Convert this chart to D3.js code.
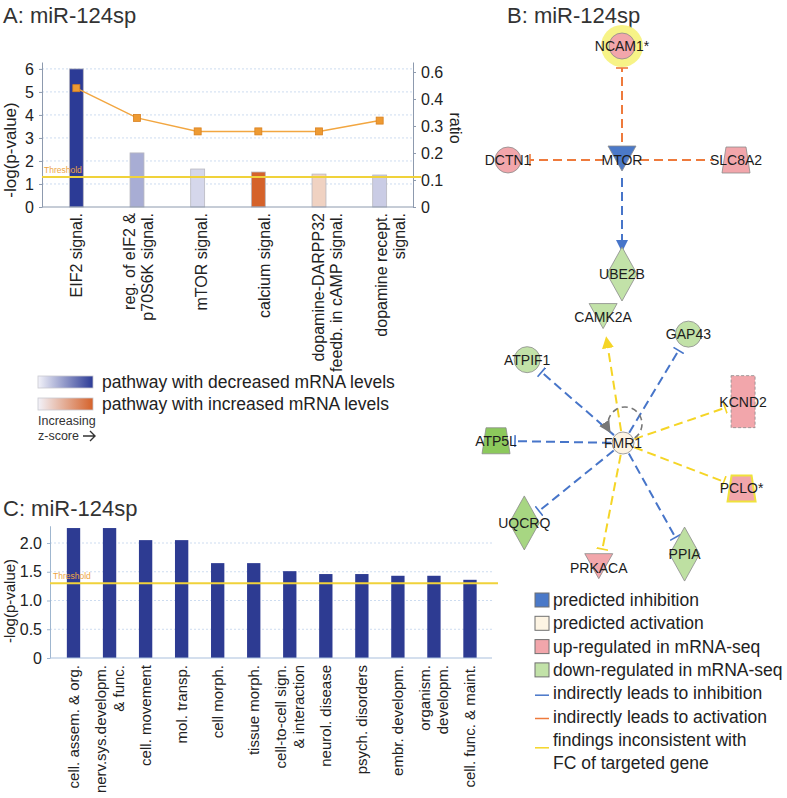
<!DOCTYPE html>
<html>
<head>
<meta charset="utf-8">
<title>miR-124sp</title>
<script src="https://cdn.jsdelivr.net/npm/d3@7"></script>
<style>
  body { margin: 0; background: #fff; }
  svg { font-family: "Liberation Sans", Arial, sans-serif; }
</style>
</head>
<body>
<script>
// ---- panel A: canonical pathways ----
var pathways = ["EIF2 signal.", "reg. of eIF2 &\np70S6K signal.", "mTOR signal.", "calcium signal.",
                "dopamine-DARPP32\nfeedb. in cAMP signal.", "dopamine recept.\nsignal."];
var pathwayLogP = [6.0, 2.35, 1.65, 1.52, 1.43, 1.39];
var pathwayRatio = [0.44, 0.33, 0.28, 0.28, 0.28, 0.32];
var pathwayZ = [-2.6, -0.95, -0.35, 2.3, 0.5, -0.5];   // colour of the bars
var logPTicks = [0, 1, 2, 3, 4, 5, 6];
var ratioTicks = [0, 0.1, 0.2, 0.3, 0.4, 0.5];
var ratioTickLabels = ["0", "0.1", "0.2", "0.3", "0.4", "0.6"];
var threshold = 1.3;

// ---- panel C: functions ----
var functions = ["cell. assem. & org.", "nerv.sys.developm.\n& func.", "cell. movement", "mol. transp.",
                 "cell morph.", "tissue morph.", "cell-to-cell sign.\n& interaction", "neurol. disease",
                 "psych. disorders", "embr. developm.", "organism.\ndevelopm.", "cell. func. & maint."];
var functionLogP = [2.26, 2.26, 2.05, 2.05, 1.65, 1.65, 1.51, 1.46, 1.46, 1.43, 1.43, 1.36];
var functionTicks = [0, 0.5, 1.0, 1.5, 2.0];

// ---- panel B: network ----
var genes     = ["MTOR", "NCAM1*", "SLC8A2", "UBE2B", "DCTN1",
                 "FMR1", "CAMK2A", "GAP43", "KCND2", "PCLO*", "PPIA", "PRKACA", "UQCRQ", "ATP5L", "ATPIF1"];
var geneType  = ["kinase", "other", "transporter", "enzyme", "other",
                 "other", "kinase", "other", "channel", "transporter", "enzyme", "kinase", "enzyme", "transporter", "other"];
var geneState = ["inhibited", "up", "up", "down", "up",
                 "activated", "down", "down", "up", "up", "down", "up", "down", "down", "down"];
var geneFC    = [0, 0.6, 0.6, -0.4, 0.6, 0, -0.4, -0.4, 0.6, 0.6, -0.45, 0.6, -0.7, -1.0, -0.4];
var geneFlag  = ["", "glow", "", "", "", "", "", "", "", "outline", "", "", "", "", ""];
// spokes of the two hubs, in clockwise order
var mtorSpokes = ["NCAM1*", "SLC8A2", "UBE2B", "DCTN1"];
var fmrSpokes  = ["CAMK2A", "GAP43", "KCND2", "PCLO*", "PPIA", "PRKACA", "UQCRQ", "ATP5L", "ATPIF1"];
var edgeSource = ["MTOR", "MTOR", "MTOR", "MTOR",
                  "FMR1", "FMR1", "FMR1", "FMR1", "FMR1", "FMR1", "FMR1", "FMR1", "FMR1"];
var edgeTarget = ["NCAM1*", "SLC8A2", "UBE2B", "DCTN1",
                  "CAMK2A", "GAP43", "KCND2", "PCLO*", "PPIA", "PRKACA", "UQCRQ", "ATP5L", "ATPIF1"];
var edgeKind   = ["act", "act", "inh", "act",
                  "incons", "inh", "incons", "incons", "inh", "incons", "inh", "inh", "inh"];
var edgeEnd    = ["bar", "none", "arrow", "bar",
                  "arrow", "bar", "bar", "bar", "bar", "bar", "bar", "bar", "bar"];

var legendB = ["predicted inhibition", "predicted activation", "up-regulated in mRNA-seq",
               "down-regulated in mRNA-seq", "indirectly leads to inhibition",
               "indirectly leads to activation", "findings inconsistent with\nFC of targeted gene"];

var W = 787, H = 798;
var svg = d3.select("body").append("svg").attr("width", W).attr("height", H);
var defs = svg.append("defs");

var edgeColor = { inh: "#4775c9", act: "#ee7a3c", incons: "#f5d526", self: "#777" };
var blueBar = d3.interpolateRgb("#efeff8", "#2c3b96");
var orangeBar = d3.interpolateRgb("#f7f1ec", "#d5622a");
function zColor(z) { return z < 0 ? blueBar(Math.min(1, -z / 2.6)) : orangeBar(Math.min(1, z / 2.3)); }

function title(x, y, s) {
  svg.append("text").attr("x", x).attr("y", y).attr("font-size", 22).attr("fill", "#333").text(s);
}

// multi-line rotated category labels
function catLabels(g, names, cx, top, size, lh) {
  names.forEach(function(name, i) {
    var lines = name.split("\n");
    var t = g.append("text")
      .attr("transform", "translate(" + cx(name, i) + "," + top + ") rotate(-90)")
      .attr("text-anchor", "end").attr("font-size", size).attr("fill", "#222");
    lines.forEach(function(l, j) {
      t.append("tspan").attr("x", 0)
        .attr("y", (j - (lines.length - 1) / 2) * lh + size * 0.35)
        .text(l);
    });
  });
}

function styleAxis(g, col) {
  g.select(".domain").attr("stroke", col);
  g.selectAll(".tick line").attr("stroke", col);
  g.selectAll(".tick text").attr("fill", "#222").attr("font-family", null);
}

// ================= panel A =================
title(3, 23, "A: miR-124sp");
var ax = d3.scaleBand().domain(pathways).range([46, 410]).paddingInner(0.77).paddingOuter(0.385);
var axLab = d3.scalePoint().domain(pathways).range([76, 390]);
var ay = d3.scaleLinear().domain([0, 6.3]).range([207, 62]);
var ar = d3.scaleLinear().domain([0, 0.537]).range([207, 62]);
var aLeft = 42, aRight = 413;

var gA = svg.append("g");
gA.selectAll("line.grid").data(logPTicks.slice(1)).enter().append("line")
  .attr("x1", aLeft).attr("x2", aRight)
  .attr("y1", function(d) { return ay(d); }).attr("y2", function(d) { return ay(d); })
  .attr("stroke", "#cddcf0").attr("stroke-dasharray", "2,2");

gA.selectAll("rect.bar").data(pathways).enter().append("rect")
  .attr("x", function(d) { return ax(d); })
  .attr("y", function(d, i) { return ay(pathwayLogP[i]); })
  .attr("width", ax.bandwidth())
  .attr("height", function(d, i) { return ay(0) - ay(pathwayLogP[i]); })
  .attr("fill", function(d, i) { return zColor(pathwayZ[i]); })
  .attr("stroke", "#b8b8c0").attr("stroke-width", 0.8);

var gAL = gA.append("g").attr("transform", "translate(" + aLeft + ",0)")
  .call(d3.axisLeft(ay).tickValues(logPTicks).tickSizeInner(3).tickSizeOuter(0).tickPadding(5)
        .tickFormat(d3.format("d")))
  .attr("font-size", 16);
styleAxis(gAL, "#8d9aae");
var gAR = gA.append("g").attr("transform", "translate(" + aRight + ",0)")
  .call(d3.axisRight(ar).tickValues(ratioTicks).tickSizeInner(3).tickSizeOuter(0).tickPadding(5)
        .tickFormat(function(d, i) { return ratioTickLabels[i]; }))
  .attr("font-size", 16);
styleAxis(gAR, "#8d9aae");
var gAB = gA.append("g").attr("transform", "translate(0," + ay(0) + ")")
  .call(d3.axisBottom(ax).tickSize(0).tickFormat(""));
gAB.select(".domain").attr("stroke", "#8d9aae").attr("d", "M" + aLeft + ",0H" + aRight);

gA.append("line").attr("x1", aLeft).attr("x2", aRight + 8)
  .attr("y1", ay(threshold)).attr("y2", ay(threshold))
  .attr("stroke", "#f0d23a").attr("stroke-width", 2);
gA.append("text").attr("x", aLeft + 2).attr("y", ay(threshold) - 4).attr("font-size", 8.5)
  .attr("fill", "#eda545").text("Threshold");

gA.append("path").datum(pathwayRatio)
  .attr("fill", "none").attr("stroke", "#f2a640").attr("stroke-width", 1.5)
  .attr("d", d3.line().x(function(d, i) { return ax(pathways[i]) + ax.bandwidth() / 2; })
                      .y(function(d) { return ar(d); }));
gA.selectAll("rect.pt").data(pathwayRatio).enter().append("rect")
  .attr("x", function(d, i) { return ax(pathways[i]) + ax.bandwidth() / 2 - 3.5; })
  .attr("y", function(d) { return ar(d) - 3.5; })
  .attr("width", 7).attr("height", 7)
  .attr("fill", "#ee9a32").attr("stroke", "#d9801f").attr("stroke-width", 0.8);

gA.append("text").attr("transform", "translate(16,150) rotate(-90)")
  .attr("text-anchor", "middle").attr("font-size", 17).attr("fill", "#222").text("-log(p-value)");
gA.append("text").attr("transform", "translate(450,128) rotate(90)")
  .attr("text-anchor", "middle").attr("font-size", 16).attr("fill", "#222").text("ratio");

catLabels(gA, pathways, function(d) { return axLab(d); }, 213, 16, 18);

// legend A
[["#2c3b96", "pathway with decreased mRNA levels"], ["#d5622a", "pathway with increased mRNA levels"]]
.forEach(function(r, i) {
  var gr = defs.append("linearGradient").attr("id", "lg" + i);
  gr.append("stop").attr("offset", "0%").attr("stop-color", "#f2f2f9");
  gr.append("stop").attr("offset", "100%").attr("stop-color", r[0]);
  var yy = 382 + i * 22;
  svg.append("rect").attr("x", 38).attr("y", yy - 6).attr("width", 55).attr("height", 12)
    .attr("fill", "url(#lg" + i + ")").attr("stroke", "#c8c8d0").attr("stroke-width", 0.8);
  svg.append("text").attr("x", 102).attr("y", yy + 6).attr("font-size", 17.5).attr("fill", "#222").text(r[1]);
});
svg.append("text").attr("x", 38).attr("y", 425).attr("font-size", 12.5).attr("fill", "#333").text("Increasing");
svg.append("text").attr("x", 38).attr("y", 440).attr("font-size", 12.5).attr("fill", "#333").text("z-score");
svg.append("path").attr("d", "M83,436H95M90,431L95,436L90,441")
  .attr("fill", "none").attr("stroke", "#333").attr("stroke-width", 1.4);

// ================= panel C =================
title(3, 516, "C: miR-124sp");
var cx = d3.scaleBand().domain(functions).range([55.5, 488]).paddingInner(0.63).paddingOuter(0.315);
var cy = d3.scaleLinear().domain([0, 2.3]).range([658, 525.75]);
var cLeft = 50, cRight = 492;
var gC = svg.append("g");
gC.selectAll("line.grid").data(functionTicks.slice(1)).enter().append("line")
  .attr("x1", cLeft).attr("x2", cRight)
  .attr("y1", function(d) { return cy(d); }).attr("y2", function(d) { return cy(d); })
  .attr("stroke", "#cddcf0").attr("stroke-dasharray", "2,2");
gC.selectAll("rect.bar").data(functions).enter().append("rect")
  .attr("x", function(d) { return cx(d); })
  .attr("y", function(d, i) { return cy(functionLogP[i]); })
  .attr("width", cx.bandwidth())
  .attr("height", function(d, i) { return cy(0) - cy(functionLogP[i]); })
  .attr("fill", "#2d3b92");
var gCL = gC.append("g").attr("transform", "translate(" + cLeft + ",0)")
  .call(d3.axisLeft(cy).tickValues(functionTicks).tickSizeInner(3).tickSizeOuter(0).tickPadding(5)
        .tickFormat(function(d) { return d === 0 ? "0" : d3.format(".1f")(d); }))
  .attr("font-size", 16);
styleAxis(gCL, "#9fb6cf");
var gCB = gC.append("g").attr("transform", "translate(0," + cy(0) + ")")
  .call(d3.axisBottom(cx).tickSize(0).tickFormat(""));
gCB.select(".domain").attr("stroke", "#a9bfdc").attr("d", "M" + cLeft + ",0H" + cRight);
gC.append("line").attr("x1", cLeft).attr("x2", cRight + 6)
  .attr("y1", cy(threshold)).attr("y2", cy(threshold))
  .attr("stroke", "#f0d23a").attr("stroke-width", 2);
gC.append("text").attr("x", cLeft + 3).attr("y", cy(threshold) - 4).attr("font-size", 8.5)
  .attr("fill", "#eda545").text("Threshold");
gC.append("text").attr("transform", "translate(15,601) rotate(-90)")
  .attr("text-anchor", "middle").attr("font-size", 15).attr("fill", "#222").text("-log(p-value)");
catLabels(gC, functions, function(d) { return cx(d) + cx.bandwidth() / 2; }, 665, 15, 18.5);

// ================= panel B =================
title(507, 23, "B: miR-124sp");
var hubX = 622, mtorY = 160, fmrY = 443, crossR = 114, starR = 127, starStart = -9;
var pos = {};
pos["MTOR"] = [hubX, mtorY];
pos["FMR1"] = [hubX + 1, fmrY];
mtorSpokes.forEach(function(g, i) {
  var p = d3.pointRadial(i * Math.PI / 2, crossR);
  pos[g] = [pos["MTOR"][0] + p[0], pos["MTOR"][1] + p[1]];
});
fmrSpokes.forEach(function(g, i) {
  var p = d3.pointRadial((starStart + i * 360 / fmrSpokes.length) * Math.PI / 180, starR);
  pos[g] = [pos["FMR1"][0] + p[0], pos["FMR1"][1] + p[1]];
});

// markers
Object.keys(edgeColor).forEach(function(k) {
  defs.append("marker").attr("id", "arrow-" + k).attr("viewBox", "0 -5 10 10")
    .attr("refX", 10).attr("refY", 0).attr("markerUnits", "userSpaceOnUse")
    .attr("markerWidth", 12).attr("markerHeight", 12).attr("orient", "auto")
    .append("path").attr("d", "M0,-5L10,0L0,5Z").attr("fill", edgeColor[k]);
  defs.append("marker").attr("id", "bar-" + k).attr("viewBox", "-2 -6 4 12")
    .attr("refX", 0).attr("refY", 0).attr("markerUnits", "userSpaceOnUse")
    .attr("markerWidth", 4).attr("markerHeight", 12).attr("orient", "auto")
    .append("path").attr("d", "M0,-6L0,6").attr("stroke", edgeColor[k]).attr("stroke-width", 1.6);
});

var gB = svg.append("g");
edgeSource.forEach(function(s, i) {
  var a = pos[s], b = pos[edgeTarget[i]];
  var dx = b[0] - a[0], dy = b[1] - a[1], L = Math.sqrt(dx * dx + dy * dy);
  var g0 = s === "MTOR" ? 18 : 12, g1 = s === "MTOR" ? 22 : 19;
  var line = gB.append("line")
    .attr("x1", a[0] + dx / L * g0).attr("y1", a[1] + dy / L * g0)
    .attr("x2", b[0] - dx / L * g1).attr("y2", b[1] - dy / L * g1)
    .attr("stroke", edgeColor[edgeKind[i]]).attr("stroke-width", 2)
    .attr("stroke-dasharray", "9,5");
  if (edgeEnd[i] !== "none") line.attr("marker-end", "url(#" + edgeEnd[i] + "-" + edgeKind[i] + ")");
});

// FMR1 self loop
(function() {
  var c = [pos["FMR1"][0] + 2, pos["FMR1"][1] - 19], r = 17;
  var p0 = d3.pointRadial(145 * Math.PI / 180, r), p1 = d3.pointRadial(238 * Math.PI / 180, r);
  gB.append("path")
    .attr("d", "M" + (c[0] + p0[0]) + "," + (c[1] + p0[1]) + "A" + r + "," + r + " 0 1 0 " +
               (c[0] + p1[0]) + "," + (c[1] + p1[1]))
    .attr("fill", "none").attr("stroke", edgeColor.self).attr("stroke-width", 1.6)
    .attr("stroke-dasharray", "6,4").attr("marker-end", "url(#arrow-self)");
})();

var pink = "#f2a6ab";
var greenScale = d3.scaleLinear().domain([-0.4, -1.0]).range(["#c2e2a8", "#8cc95c"]).clamp(true);
function nodeFill(i) {
  var s = geneState[i];
  if (s === "inhibited") return "#4b79c8";
  if (s === "activated") return "#fdf4e3";
  if (s === "up") return pink;
  return greenScale(geneFC[i]);
}
function shape(t) {
  if (t === "kinase") return "M-14,-14L14,-14L0,11Z";
  if (t === "transporter") return "M-10,-13L10,-13L14,13L-14,13Z";
  if (t === "enzyme") return "M0,-27L15,0L0,27L-15,0Z";
  if (t === "channel") return "M-12,-26L12,-26L12,26L-12,26Z";
  return null;
}

var nodes = gB.selectAll("g.node").data(genes).enter().append("g")
  .attr("transform", function(d) { return "translate(" + pos[d][0] + "," + pos[d][1] + ")"; });
nodes.each(function(d, i) {
  var g = d3.select(this), t = geneType[i];
  if (geneFlag[i] === "glow") g.append("circle").attr("r", 21).attr("fill", "#f6f27a").attr("opacity", 0.9);
  var el = shape(t) ? g.append("path").attr("d", shape(t))
                    : g.append("circle").attr("r", d === "FMR1" ? 11 : 13);
  el.attr("fill", nodeFill(i))
    .attr("stroke", geneFlag[i] === "outline" ? "#efe23c" : "#8a8a8a")
    .attr("stroke-width", geneFlag[i] === "outline" ? 2 : 0.8);
  if (t === "channel") el.attr("stroke-dasharray", "3,2");
  g.append("text").attr("text-anchor", "middle").attr("dy", "0.35em")
    .attr("font-size", 14).attr("fill", "#1c1c1c").text(d);
});

// legend B
var gLB = svg.append("g");
var legFill = ["#4b79c8", "#fdf4e3", pink, "#c2e2a8"];
var legLine = ["inh", "act", "incons"];
legendB.forEach(function(s, i) {
  var yy = 600 + i * 23.3;
  if (i < 4) {
    gLB.append("rect").attr("x", 535).attr("y", yy - 7).attr("width", 14).attr("height", 14)
      .attr("fill", legFill[i]).attr("stroke", "#707070").attr("stroke-width", 1);
  } else {
    var ly = i === 6 ? yy + 8 : yy + 2;
    gLB.append("line").attr("x1", 535).attr("x2", 549).attr("y1", ly).attr("y2", ly)
      .attr("stroke", edgeColor[legLine[i - 4]]).attr("stroke-width", 1.5);
  }
  var t = gLB.append("text").attr("x", 553).attr("y", yy + 6).attr("font-size", 17.5).attr("fill", "#222");
  s.split("\n").forEach(function(l, j) {
    t.append("tspan").attr("x", 553).attr("dy", j ? 23 : 0).text(l);
  });
});
</script>
</body>
</html>
